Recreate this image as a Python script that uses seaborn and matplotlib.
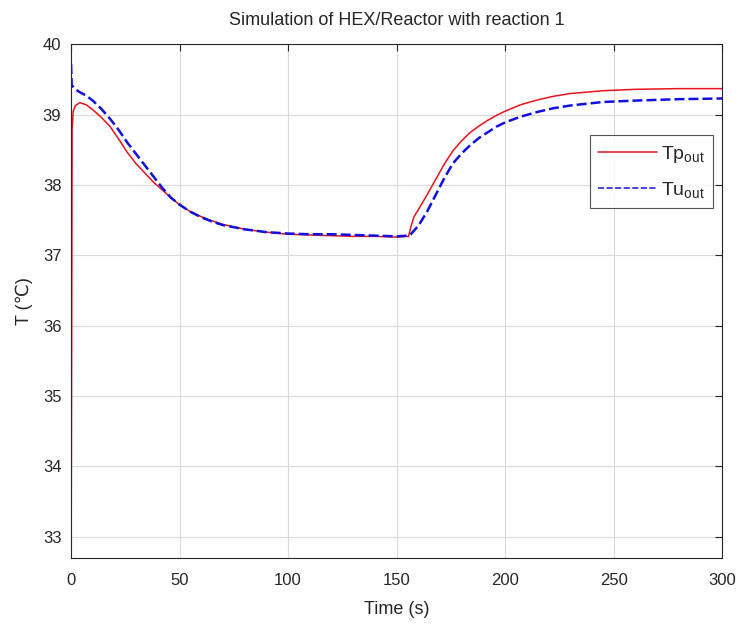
#!/usr/bin/env python3
"""HEX/Reactor simulation with reaction 1: outlet temperatures over time."""

import matplotlib
matplotlib.use("Agg")
import matplotlib.pyplot as plt
import pandas as pd
import seaborn as sns

# values
tp_time = [0, 0.5, 1, 2, 4, 7, 10, 14, 18, 22, 26, 30, 34, 38, 42, 46, 50, 55, 60,
           65, 70, 80, 90, 100, 110, 120, 130, 140, 150, 155.5, 156.5, 158, 160,
           164, 168, 172, 176, 180, 184, 188, 192, 196, 200, 207, 215, 222, 230,
           245, 260, 280, 300]
tp_out = [32.0, 38.8, 39.05, 39.13, 39.17, 39.14, 39.07, 38.96, 38.83, 38.65, 38.46,
          38.30, 38.17, 38.04, 37.93, 37.82, 37.72, 37.62, 37.55, 37.49, 37.44, 37.37,
          37.33, 37.30, 37.29, 37.28, 37.27, 37.27, 37.26, 37.27, 37.40, 37.55, 37.65,
          37.86, 38.08, 38.30, 38.49, 38.63, 38.75, 38.84, 38.92, 38.99, 39.05, 39.14,
          39.21, 39.26, 39.30, 39.34, 39.36, 39.37, 39.37]

tu_time = [0, 0.3, 2, 4, 7, 10, 14, 18, 22, 26, 30, 34, 38, 42, 46, 50, 55, 60, 65,
           70, 80, 90, 100, 110, 120, 130, 140, 150, 155, 156.5, 160, 164, 168, 172,
           176, 180, 184, 188, 192, 196, 200, 207, 215, 222, 230, 245, 260, 280, 300]
tu_out = [39.72, 39.42, 39.36, 39.32, 39.27, 39.20, 39.08, 38.94, 38.78, 38.60, 38.44,
          38.28, 38.12, 37.96, 37.82, 37.72, 37.62, 37.54, 37.48, 37.43, 37.37, 37.33,
          37.31, 37.30, 37.30, 37.29, 37.28, 37.27, 37.28, 37.30, 37.42, 37.62, 37.86,
          38.10, 38.31, 38.45, 38.57, 38.67, 38.75, 38.83, 38.89, 38.97, 39.04, 39.09,
          39.13, 39.18, 39.20, 39.22, 39.23]

series_labels = [r"Tp$_{\mathrm{out}}$", r"Tu$_{\mathrm{out}}$"]
x_ticks = [0, 50, 100, 150, 200, 250, 300]
y_ticks = [33, 34, 35, 36, 37, 38, 39, 40]

TEXT = "#262626"

sns.set_style("whitegrid")
plt.rcParams.update({
    "font.size": 12,
    "axes.edgecolor": TEXT,
    "axes.linewidth": 0.8,
    "grid.color": "#dadada",
    "grid.linewidth": 0.8,
    "xtick.direction": "in",
    "ytick.direction": "in",
    "xtick.top": True,
    "ytick.right": True,
    "xtick.color": TEXT,
    "ytick.color": TEXT,
    "text.color": TEXT,
    "axes.labelcolor": TEXT,
    "mathtext.default": "regular",
    "mathtext.fontset": "custom",
    "mathtext.rm": "Liberation Sans",
})
plt.rcParams["font.family"] = ["Liberation Sans", "DejaVu Sans"]

df = pd.concat([
    pd.DataFrame({"time": tp_time, "T": tp_out, "series": "Tp"}),
    pd.DataFrame({"time": tu_time, "T": tu_out, "series": "Tu"}),
])

fig = plt.figure(figsize=(7.4, 6.24), dpi=100)
ax = fig.add_axes([0.096, 0.106, 0.88, 0.823])

sns.lineplot(data=df, x="time", y="T", hue="series", style="series",
             palette={"Tp": "#e8141b", "Tu": "#1010e0"},
             dashes={"Tp": "", "Tu": (4, 1.6)},
             ax=ax, estimator=None, sort=False)
ax.lines[0].set_linewidth(1.1)
ax.lines[1].set_linewidth(1.8)

ax.set_xlim(0, 300)
ax.set_ylim(32.7, 40)
ax.set_xticks(x_ticks)
ax.set_yticks(y_ticks)
ax.tick_params(axis="x", length=5, width=0.8, pad=11, labelsize=12)
ax.tick_params(axis="y", length=5, width=0.8, pad=7, labelsize=12)
for side in ["top", "right", "bottom", "left"]:
    ax.spines[side].set_visible(True)
ax.grid(True)

ax.set_xlabel("Time (s)", fontsize=13, labelpad=9)
ax.set_ylabel("T (℃)", fontsize=13, labelpad=7)
ax.set_title("Simulation of HEX/Reactor with reaction 1", fontsize=13, pad=14)

handles, _ = ax.get_legend_handles_labels()
for h in handles:
    h.set_linewidth(1.1)
leg = ax.legend(handles[-2:], series_labels, loc="upper right",
                bbox_to_anchor=(0.986, 0.823), borderaxespad=0, fontsize=14,
                frameon=True, fancybox=False, edgecolor=TEXT, handlelength=3.0,
                borderpad=0.45, labelspacing=0.75, handletextpad=0.2)
leg.get_frame().set_linewidth(0.8)

fig.savefig("out.png", dpi=100)
plt.close(fig)
